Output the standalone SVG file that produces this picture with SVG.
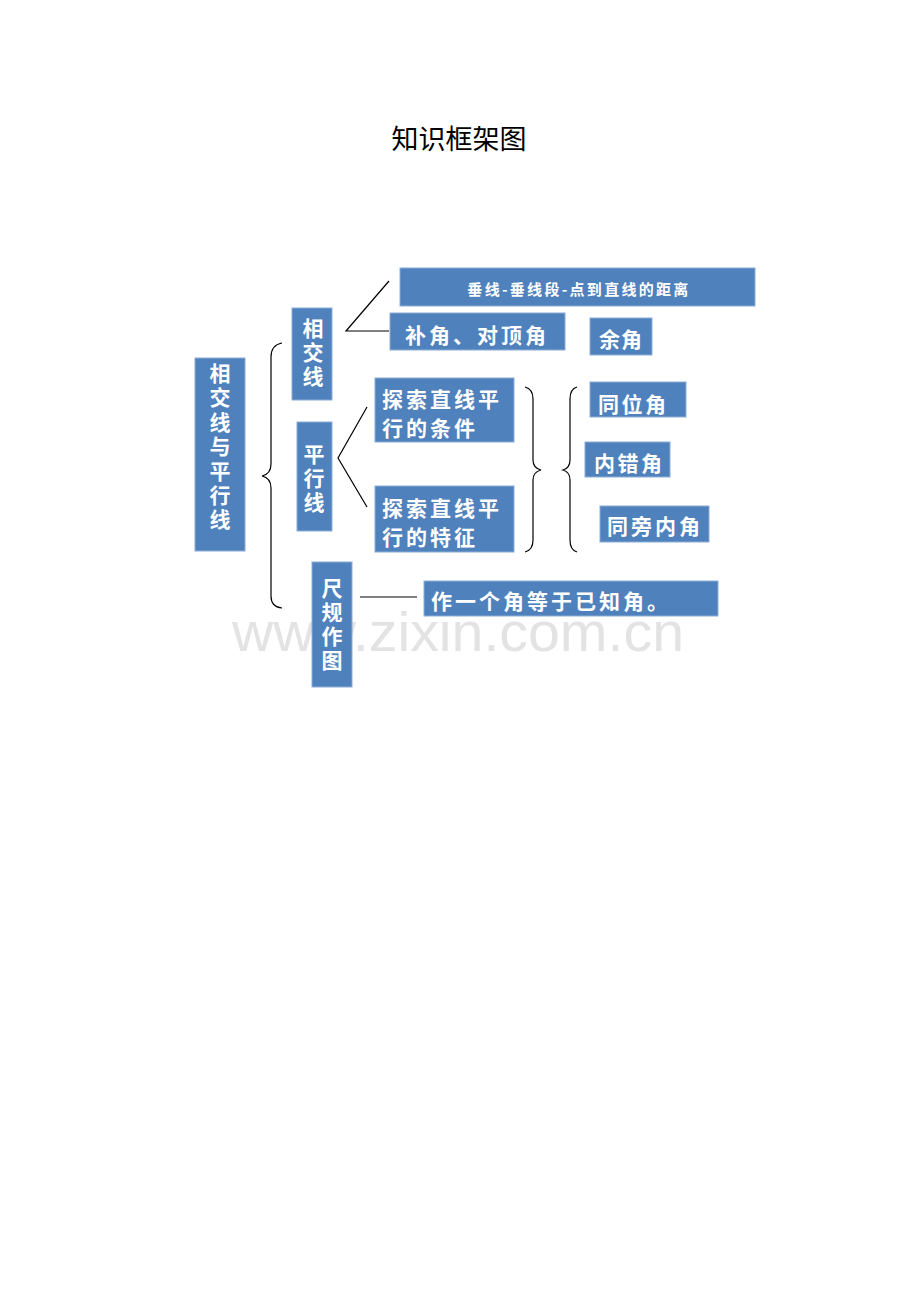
<svg xmlns="http://www.w3.org/2000/svg" width="920" height="1302" viewBox="0 0 920 1302">
<style>
.box{fill:#4F81BD;stroke:#8EADD6;stroke-width:1}
.t{font-family:"Noto Sans CJK SC","Noto Sans",sans-serif;font-weight:bold;fill:#FFFFFF;font-size:21px;dominant-baseline:central}
.c{text-anchor:middle}
.ln{fill:none;stroke:#000000;stroke-width:1.2}
</style>
<rect width="920" height="1302" fill="#FFFFFF"/>
<text x="458" y="651" text-anchor="middle" font-family="'Liberation Sans',Arial,sans-serif" font-size="56" fill="#E3E3E3" textLength="452" lengthAdjust="spacingAndGlyphs">www.zixin.com.cn</text>
<text x="459" y="137" text-anchor="middle" dominant-baseline="central" font-family="'Noto Sans CJK SC',sans-serif" font-size="27" fill="#000000">知识框架图</text>
<g id="connectors">
<path class="ln" d="M282,343 Q271,345 271,357 L271,464 Q271,474 262,476 Q271,478 271,488 L271,596 Q271,607 282,608"/>
<path class="ln" d="M389,281 L346,331 L389,331"/>
<path class="ln" d="M367,407 L338,458 L367,507"/>
<path class="ln" d="M525,387 Q533,389 533,399 L533,460 Q533,468 541,470 Q533,472 533,480 L533,540 Q533,550 525,552"/>
<path class="ln" d="M577,387 Q570,389 570,399 L570,460 Q570,468 563,470 Q570,472 570,480 L570,540 Q570,550 577,552"/>
<path class="ln" d="M360,597 L417,597"/>
</g>
<g id="n-main"><rect class="box" x="195" y="358" width="50" height="193"/>
<text class="t c"><tspan x="220" y="372">相</tspan><tspan x="220" y="396">交</tspan><tspan x="220" y="421">线</tspan><tspan x="220" y="445">与</tspan><tspan x="220" y="470">平</tspan><tspan x="220" y="494">行</tspan><tspan x="220" y="518">线</tspan></text>
</g>
<g id="n-xjx"><rect class="box" x="292" y="308" width="40" height="92"/>
<text class="t c"><tspan x="313" y="327">相</tspan><tspan x="313" y="351">交</tspan><tspan x="313" y="375">线</tspan></text></g>
<g id="n-cx"><rect class="box" x="400" y="268" width="355" height="38"/>
<text class="t c" x="579" y="288" style="font-size:15px" letter-spacing="2.3">垂线-垂线段-点到直线的距离</text></g>
<g id="n-bj"><rect class="box" x="390" y="313" width="175" height="37"/>
<text class="t" x="405" y="334" letter-spacing="3">补角、对顶角</text></g>
<g id="n-yj"><rect class="box" x="590" y="318" width="62" height="37"/>
<text class="t c" x="621" y="338" letter-spacing="1">余角</text></g>
<g id="n-pxx"><rect class="box" x="297" y="422" width="35" height="109"/>
<text class="t c"><tspan x="314" y="453">平</tspan><tspan x="314" y="477">行</tspan><tspan x="314" y="501">线</tspan></text></g>
<g id="n-tj"><rect class="box" x="375" y="378" width="139" height="64"/>
<text class="t" letter-spacing="3"><tspan x="382" y="398">探索直线平</tspan><tspan x="382" y="427">行的条件</tspan></text></g>
<g id="n-tz"><rect class="box" x="375" y="486" width="139" height="66"/>
<text class="t" letter-spacing="3"><tspan x="382" y="507">探索直线平</tspan><tspan x="382" y="536">行的特征</tspan></text></g>
<g id="n-twj"><rect class="box" x="590" y="382" width="96" height="35"/>
<text class="t" x="598" y="403" letter-spacing="2.5">同位角</text></g>
<g id="n-ncj"><rect class="box" x="585" y="442" width="85" height="35"/>
<text class="t" x="594" y="462" letter-spacing="2.5">内错角</text></g>
<g id="n-tpnj"><rect class="box" x="600" y="506" width="109" height="36"/>
<text class="t" x="607" y="525" letter-spacing="3">同旁内角</text></g>
<g id="n-cgzt"><rect class="box" x="312" y="562" width="40" height="125"/>
<text class="t c"><tspan x="332" y="587">尺</tspan><tspan x="332" y="611">规</tspan><tspan x="332" y="635">作</tspan><tspan x="332" y="659">图</tspan></text></g>
<g id="n-zyg"><rect class="box" x="424" y="581" width="294" height="35"/>
<text class="t" x="431" y="600" letter-spacing="3">作一个角等于已知角。</text></g>
</svg>
